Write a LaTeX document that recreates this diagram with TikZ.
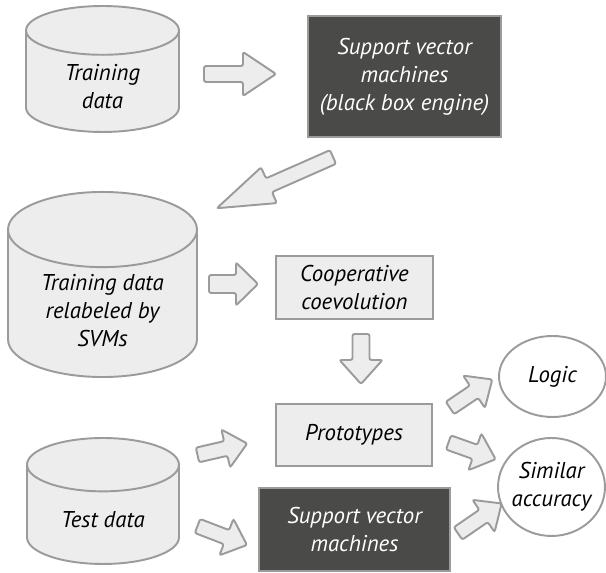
\documentclass[tikz,border=0pt]{standalone}
\usepackage{fontspec}
\setmainfont{PT Sans}
\usetikzlibrary{shapes.geometric}
\definecolor{edgegray}{HTML}{9B9B9B}
\definecolor{boxgray}{HTML}{ECEDEC}
\definecolor{boxdark}{HTML}{4A4A49}
\begin{document}
\begin{tikzpicture}[x=0.02cm,y=-0.02cm,
  every node/.style={font=\fontsize{13}{16}\selectfont\itshape,align=center},
  store/.style={cylinder,shape border rotate=90,aspect=0.56,draw=edgegray,fill=boxgray,line width=1.1pt,anchor=shape center},
  lightbox/.style={rectangle,draw=edgegray,fill=boxgray,line width=1.1pt},
  blackbox/.style={rectangle,draw=edgegray,fill=boxdark,text=white,line width=1.1pt},
  result/.style={ellipse,draw=edgegray,fill=white,line width=1.1pt,inner sep=-0.2cm},
  pics/fatarrow/.style args={#1/#2/#3/#4}{code={
    \draw[draw=edgegray,fill=boxgray,line width=1.1pt,rounded corners=1.2pt]
      (0,-#4) -- (#1-#2,-#4) -- (#1-#2,-#3) -- (#1,0) -- (#1-#2,#3) -- (#1-#2,#4) -- (0,#4) -- cycle;}}]
   \useasboundingbox (0,0) rectangle (606,573);
   \node[store,minimum width=3.06cm,minimum height=2.52cm] (train) at (102.5,69) {Training\\data};
   \node[store,minimum width=3.78cm,minimum height=3.3cm] (relab) at (102.5,284.5) {Training data\\relabeled by\\SVMs};
   \node[store,minimum width=3.04cm,minimum height=2.52cm] (test) at (103,501) {Test data};
   \node[blackbox,minimum width=3.86cm,minimum height=2.42cm] (svm) at (404.5,76.5) {Support vector\\machines\\(black box engine)};
   \node[lightbox,minimum width=3.14cm,minimum height=1.26cm] (coop) at (354.5,287.5) {Cooperative\\coevolution};
   \node[lightbox,minimum width=3.12cm,minimum height=1.24cm] (proto) at (354,435) {Prototypes};
   \node[blackbox,minimum width=3.82cm,minimum height=1.66cm] (svmtest) at (354.5,529.5) {Support vector\\machines};
   \node[result,minimum width=2.14cm,minimum height=1.62cm] (logic) at (552.5,376.5) {Logic};
   \node[result,minimum width=2.14cm,minimum height=1.96cm] (acc) at (551.5,487) {Similar\\accuracy};
   \pic (a1) at (204,74) {fatarrow={72/33/22/8}};
   \pic[rotate=203.8] (a2) at (333,157) {fatarrow={127/57/19.5/7.5}};
   \pic (a3) at (209,284) {fatarrow={49/22/21.5/9}};
   \pic[rotate=-90] (a4) at (361,334) {fatarrow={50/24/21.5/8.5}};
   \pic[rotate=13] (a5) at (197.5,455) {fatarrow={51/22/19.5/7.5}};
   \pic[rotate=-21] (a6) at (197.5,526) {fatarrow={53/22/19.5/7.5}};
   \pic[rotate=34] (a7) at (450,408) {fatarrow={51/22/19.5/7.5}};
   \pic[rotate=-19.5] (a8) at (448.5,442.5) {fatarrow={50/22/19.5/7.5}};
   \pic[rotate=34.5] (a9) at (458,533.5) {fatarrow={53/22/19.5/7.5}};
 \end{tikzpicture}
\end{document}
